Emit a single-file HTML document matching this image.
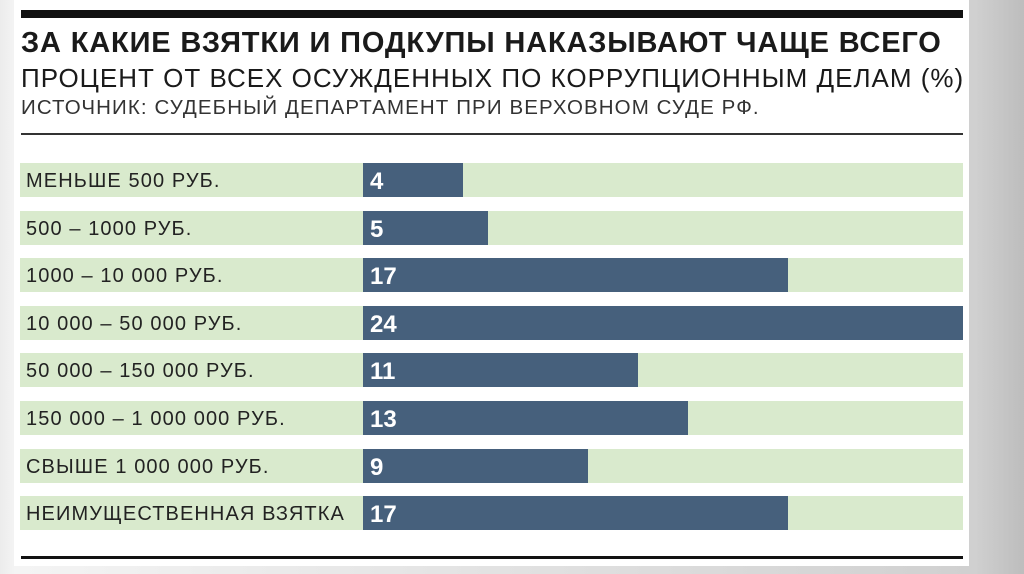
<!DOCTYPE html>
<html><head><meta charset="utf-8"><style>
body{margin:0;width:1024px;height:574px;overflow:hidden;background:linear-gradient(90deg,#ececec 0,#f4f4f4 15px,#d0d0d0 975px,#bdbdbd 1024px);font-family:"Liberation Sans","DejaVu Sans",sans-serif;position:relative}
.card{position:absolute;left:14px;top:0;width:955px;height:566px;background:#fff}
.abs{position:absolute}
.t{white-space:nowrap;color:#1a1a1a}
</style></head><body>
<div class="card"></div>
<div class="abs" style="left:21px;top:10px;width:942px;height:8px;background:#111"></div>
<div class="abs t" style="left:21px;top:27px;font-size:29px;font-weight:bold;letter-spacing:0.85px">ЗА КАКИЕ ВЗЯТКИ И ПОДКУПЫ НАКАЗЫВАЮТ ЧАЩЕ ВСЕГО</div>
<div class="abs t" style="left:21px;top:63px;font-size:26px;letter-spacing:1px">ПРОЦЕНТ ОТ ВСЕХ ОСУЖДЕННЫХ ПО КОРРУПЦИОННЫМ ДЕЛАМ (%)</div>
<div class="abs t" style="left:21px;top:96px;font-size:20.5px;color:#333;letter-spacing:1.1px">ИСТОЧНИК: СУДЕБНЫЙ ДЕПАРТАМЕНТ ПРИ ВЕРХОВНОМ СУДЕ РФ.</div>
<div class="abs" style="left:21px;top:133px;width:942px;height:2px;background:#333"></div>
<div id="rows"></div>
<div class="abs" style="left:21px;top:556px;width:942px;height:3px;background:#111"></div>
<script>
const categories=["МЕНЬШЕ 500 РУБ.","500 – 1000 РУБ.","1000 – 10 000 РУБ.","10 000 – 50 000 РУБ.","50 000 – 150 000 РУБ.","150 000 – 1 000 000 РУБ.","СВЫШЕ 1 000 000 РУБ.","НЕИМУЩЕСТВЕННАЯ ВЗЯТКА"];
const values=[4,5,17,24,11,13,9,17];
const maxValue=24;
const x0=363,x1=963,top0=163,pitch=47.6,h=34;
const xs=v=>x0+(x1-x0)*v/maxValue;
const root=document.getElementById('rows');
categories.forEach((c,i)=>{
  const y=top0+i*pitch;
  const band=document.createElement('div');
  band.className='abs';
  band.style.cssText=`left:20px;top:${y}px;width:943px;height:${h}px;background:#d9eacd`;
  
  
  root.appendChild(band);
  const lab=document.createElement('div');
  lab.className='abs t';
  lab.style.cssText=`left:26px;top:${y+1}px;line-height:${h}px;font-size:20px;letter-spacing:1.1px;color:#222`;
  lab.textContent=c;
  
  
  root.appendChild(lab);
  const bar=document.createElement('div');
  bar.className='abs';
  bar.style.cssText=`left:${x0}px;top:${y}px;width:${xs(values[i])-x0}px;height:${h}px;background:#46607c`;
  
  
  root.appendChild(bar);
  const val=document.createElement('div');
  val.className='abs t';
  val.style.cssText=`left:${x0+7}px;top:${y+2}px;line-height:${h}px;font-size:24px;font-weight:bold;color:#fff`;
  val.textContent=values[i];
  
  
  root.appendChild(val);
});
</script>
</body></html>
